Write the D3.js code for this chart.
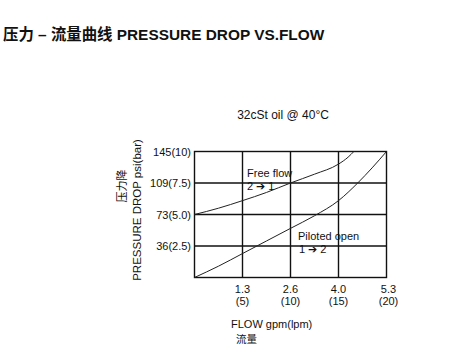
<!DOCTYPE html>
<html><head><meta charset="utf-8">
<script src="https://cdn.jsdelivr.net/npm/d3@7"></script>
<style>body{margin:0;background:#fff;}svg{display:block;font-family:"Liberation Sans",Arial,sans-serif;}</style>
</head><body>
<script>
// Data (x in lpm, y in bar)
const xTickValues = [5, 10, 15, 20];
const xTickGpm = ["1.3", "2.6", "4.0", "5.3"];
const yTickValues = [2.5, 5.0, 7.5, 10];
const yTickLabels = ["36(2.5)", "73(5.0)", "109(7.5)", "145(10)"];
const freeFlow = [[0,5.0],[2.5,5.5],[5,6.1],[7.5,6.75],[10,7.5],[12.5,8.2],[15,9.0],[16,9.55],[16.6,10]];
const pilotedOpen = [[0,0],[2.5,0.9],[5,1.9],[7.5,2.9],[10,3.9],[12.5,4.9],[15,6.1],[17,7.5],[18.5,8.7],[20,10]];

const W = 472, H = 360;
const svg = d3.select("body").append("svg").attr("width", W).attr("height", H);
const L = 194.5, R = 386.5, T = 151.5, B = 277.5;
const x = d3.scaleLinear().domain([0, 20]).range([L, R]);
const y = d3.scaleLinear().domain([0, 10]).range([B, T]);

// Title
svg.append("text").attr("x", 3).attr("y", 40).attr("font-size", 15.4).attr("font-weight", "bold")
  .attr("fill", "#111").style("font-family", "'Liberation Sans','Noto Sans CJK SC',sans-serif")
  .text("压力 – 流量曲线 PRESSURE DROP VS.FLOW");

svg.append("text").attr("x", 283).attr("y", 119).attr("text-anchor", "middle").attr("font-size", 12)
  .attr("fill", "#111").text("32cSt oil @ 40°C");

// grid
const g = svg.append("g");
g.selectAll(".gx").data(xTickValues.slice(0, 3)).join("line")
  .attr("x1", d => x(d)).attr("x2", d => x(d)).attr("y1", T).attr("y2", B)
  .attr("stroke", "#111").attr("stroke-width", 1.4);
g.selectAll(".gy").data(yTickValues.slice(0, 3)).join("line")
  .attr("x1", L).attr("x2", R).attr("y1", d => y(d)).attr("y2", d => y(d))
  .attr("stroke", "#111").attr("stroke-width", 1.4);
g.append("rect").attr("x", L).attr("y", T).attr("width", R - L).attr("height", B - T)
  .attr("fill", "none").attr("stroke", "#111").attr("stroke-width", 1.4);

// y tick labels
svg.selectAll(".yl").data(yTickValues).join("text")
  .attr("x", 191).attr("y", d => y(d) + 4).attr("text-anchor", "end").attr("font-size", 11)
  .attr("fill", "#111").text((d, i) => yTickLabels[i]);

// x tick labels
const xl = svg.selectAll(".xl").data(xTickValues).join("g");
xl.append("text").attr("x", (d, i) => x(d) + (i === 3 ? 2 : 0)).attr("y", 293).attr("text-anchor", "middle")
  .attr("font-size", 11).attr("fill", "#111").text((d, i) => xTickGpm[i]);
xl.append("text").attr("x", (d, i) => x(d) + (i === 3 ? 2 : 0)).attr("y", 305).attr("text-anchor", "middle")
  .attr("font-size", 11).attr("fill", "#111").text(d => "(" + d + ")");

// curves
const line = d3.line().x(d => x(d[0])).y(d => y(d[1])).curve(d3.curveMonotoneX);
[freeFlow, pilotedOpen].forEach(s => {
  svg.append("path").attr("d", line(s)).attr("fill", "none").attr("stroke", "#222").attr("stroke-width", 1);
});

// annotations
svg.append("text").attr("x", 247).attr("y", 177).attr("font-size", 11).attr("fill", "#111").text("Free flow");
svg.append("text").attr("x", 247).attr("y", 190).attr("font-size", 11).attr("fill", "#111").text("2 ➔ 1");
svg.append("text").attr("x", 298).attr("y", 240).attr("font-size", 11).attr("fill", "#111").text("Piloted open");
svg.append("text").attr("x", 299).attr("y", 253).attr("font-size", 11).attr("fill", "#111").text("1 ➔ 2");

// axis titles
svg.append("text").attr("x", 231).attr("y", 328).attr("font-size", 11).attr("fill", "#111").text("FLOW gpm(lpm)");
svg.append("text").attr("x", 236).attr("y", 343).attr("font-size", 10.5).attr("fill", "#111")
  .style("font-family", "'Noto Sans CJK SC',sans-serif").text("流量");
svg.append("text").attr("transform", "translate(141,210) rotate(-90)").attr("text-anchor", "middle")
  .attr("font-size", 11.5).attr("fill", "#111").text("PRESSURE DROP psi(bar)");
svg.append("text").attr("transform", "translate(126,186) rotate(-90)").attr("text-anchor", "middle")
  .attr("font-size", 11).attr("fill", "#111").style("font-family", "'Noto Sans CJK SC',sans-serif").text("压力降");
</script>
</body></html>
